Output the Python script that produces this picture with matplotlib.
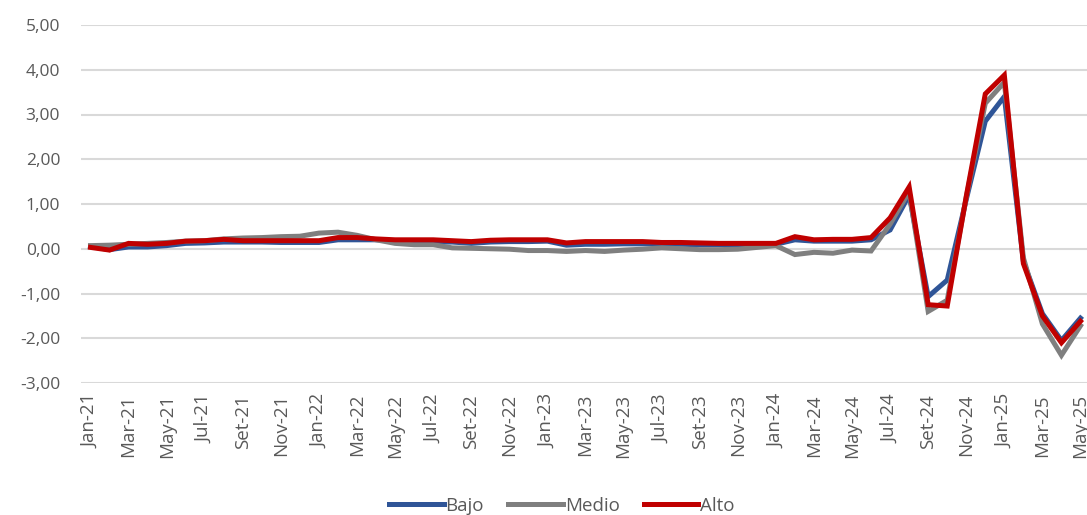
import numpy as np
import matplotlib.pyplot as plt
from matplotlib.ticker import FuncFormatter

plt.rcParams['font.family'] = ['Open Sans', 'DejaVu Sans']

meses = ["Jan", "Feb", "Mar", "Apr", "May", "Jun", "Jul", "Ago", "Set", "Oct", "Nov", "Dic"]
periodos = [f"{m}-{a}" for a in range(21, 26) for m in meses][:53]

bajo = [0.05, -0.02, 0.04, 0.04, 0.07, 0.12, 0.13, 0.15, 0.15, 0.15, 0.14, 0.14,
        0.14, 0.20, 0.20, 0.20, 0.18, 0.16, 0.15, 0.15, 0.12, 0.15, 0.16, 0.16,
        0.17, 0.08, 0.10, 0.10, 0.11, 0.11, 0.10, 0.10, 0.09, 0.09, 0.09, 0.10,
        0.10, 0.20, 0.17, 0.17, 0.17, 0.20, 0.42, 1.20, -1.07, -0.70, 1.10, 2.85,
        3.40, -0.28, -1.45, -2.05, -1.55]
medio = [0.07, 0.08, 0.10, 0.12, 0.14, 0.17, 0.18, 0.22, 0.24, 0.25, 0.27, 0.28,
         0.35, 0.37, 0.30, 0.20, 0.12, 0.09, 0.09, 0.02, 0.01, 0.00, -0.01, -0.04,
         -0.04, -0.06, -0.04, -0.06, -0.03, -0.01, 0.02, 0.00, -0.02, -0.02, -0.01, 0.03,
         0.07, -0.13, -0.08, -0.10, -0.03, -0.05, 0.55, 1.28, -1.40, -1.15, 1.15, 3.25,
         3.72, -0.20, -1.68, -2.38, -1.72]
alto = [0.03, -0.03, 0.12, 0.10, 0.12, 0.17, 0.18, 0.21, 0.18, 0.18, 0.18, 0.18,
        0.18, 0.25, 0.25, 0.22, 0.20, 0.20, 0.20, 0.18, 0.16, 0.19, 0.20, 0.20,
        0.20, 0.13, 0.16, 0.16, 0.16, 0.16, 0.14, 0.14, 0.13, 0.12, 0.12, 0.12,
        0.12, 0.27, 0.20, 0.21, 0.21, 0.25, 0.69, 1.38, -1.25, -1.28, 1.17, 3.46,
        3.88, -0.33, -1.50, -2.10, -1.62]

series = [("Bajo", bajo, "#2F5597"), ("Medio", medio, "#7F7F7F"), ("Alto", alto, "#C00000")]

fig = plt.figure(figsize=(10.87, 5.15), dpi=100)
# plot area runs a little past the right edge, so the last label is clipped
ax = fig.add_axes([81 / 1087, 132 / 515, 1009 / 1087, 358 / 515])

x = np.arange(len(periodos))
for nombre, vals, color in series:
    ax.plot(x, vals, color=color, lw=3.6, label=nombre, solid_joinstyle='miter')

ax.set_xlim(-0.5, len(periodos) - 0.5)
ax.set_ylim(-3, 5)
ax.set_yticks(np.arange(-3, 6, 1))
ax.yaxis.set_major_formatter(FuncFormatter(lambda v, p: f"{v:.2f}".replace(".", ",")))
ax.set_xticks(x[::2])
ax.set_xticklabels(periodos[::2], rotation=90)

ax.grid(axis='y', color='#D9D9D9', lw=1.5)
ax.set_axisbelow(True)
for s in ax.spines.values():
    s.set_visible(False)
ax.tick_params(length=0, colors='#595959')
ax.tick_params(axis='y', pad=15, labelsize=12.5)
ax.tick_params(axis='x', pad=8, labelsize=13.5)

ax.legend(loc='lower center', bbox_to_anchor=(562 / 1087, -0.014), bbox_transform=fig.transFigure,
          ncol=3, frameon=False, fontsize=13.5, handlelength=2.9, handletextpad=0.1,
          columnspacing=1.3, labelcolor='#595959', borderaxespad=0.0)

fig.savefig("out.png", dpi=100)
